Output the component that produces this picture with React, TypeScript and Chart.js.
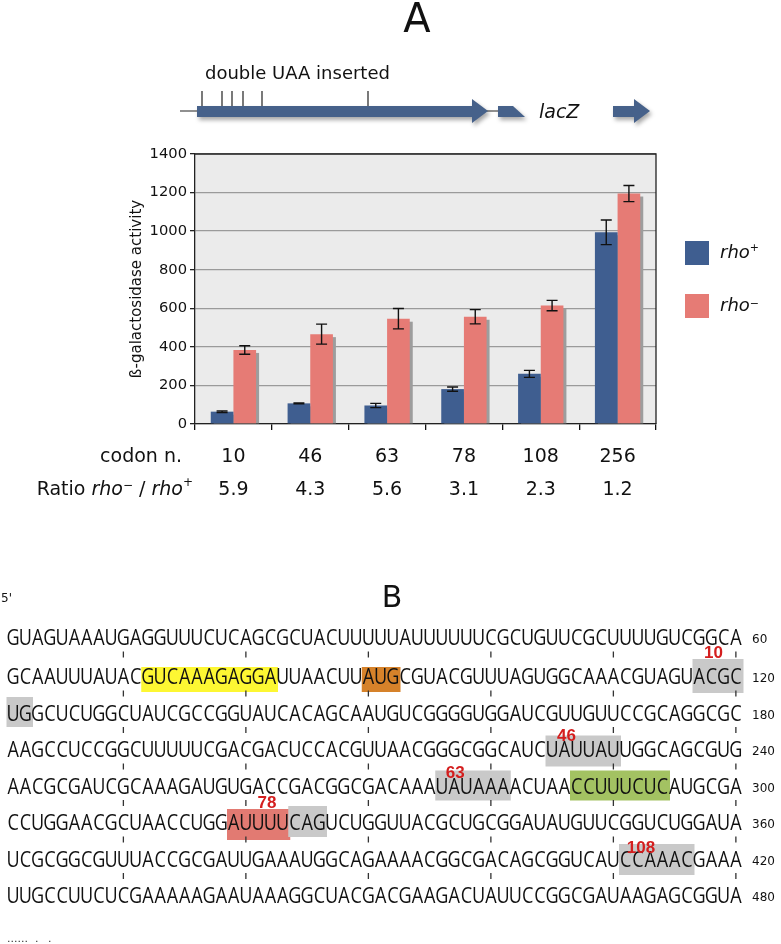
import { useEffect, useRef } from 'react';
import { Chart, registerables } from 'chart.js';

Chart.register(...registerables);

// ---------- data ----------
const codons = ['10', '46', '63', '78', '108', '256'];
const ratios = ['5.9', '4.3', '5.6', '3.1', '2.3', '1.2'];
const rhoPlus = [64, 107, 96, 181, 260, 994];
const rhoPlusErr = [4, 2, 11, 11, 18, 64];
const rhoMinus = [384, 466, 546, 556, 614, 1195];
const rhoMinusErr = [22, 52, 53, 37, 27, 42];
const yMax = 1400;
const yStep = 200;

const seqRows = [
  'GUAGUAAAUGAGGUUUCUCAGCGCUACUUUUUAUUUUUUCGCUGUUCGCUUUUGUCGGCA',
  'GCAAUUUAUACGUCAAAGAGGAUUAACUUAUGCGUACGUUUAGUGGCAAACGUAGUACGC',
  'UGGCUCUGGCUAUCGCCGGUAUCACAGCAAUGUCGGGGUGGAUCGUUGUUCCGCAGGCGC',
  'AAGCCUCCGGCUUUUUCGACGACUCCACGUUAACGGGCGGCAUCUAUUAUUGGCAGCGUG',
  'AACGCGAUCGCAAAGAUGUGACCGACGGCGACAAAUAUAAAACUAACCUUUCUCAUGCGA',
  'CCUGGAACGCUAACCUGGAUUUUCAGUCUGGUUACGCUGCGGAUAUGUUCGGUCUGGAUA',
  'UCGCGGCGUUUACCGCGAUUGAAAUGGCAGAAAACGGCGACAGCGGUCAUCCAAACGAAA',
  'UUGCCUUCUCGAAAAAGAAUAAAGGCUACGACGAAGACUAUUCCGGCGAUAAGAGCGGUA',
];

// highlighted stretches: row, first and last index within the row, kind, label
const highlights = [
  { row: 1, start: 11, end: 21, kind: 'sd', label: '' },
  { row: 1, start: 29, end: 31, kind: 'start', label: '' },
  { row: 1, start: 56, end: 59, kind: 'site', label: '10' },
  { row: 2, start: 0, end: 1, kind: 'site', label: '' },
  { row: 3, start: 44, end: 49, kind: 'site', label: '46' },
  { row: 4, start: 35, end: 40, kind: 'site', label: '63' },
  { row: 4, start: 46, end: 53, kind: 'green', label: '' },
  { row: 5, start: 18, end: 22, kind: 'red', label: '78' },
  { row: 5, start: 23, end: 25, kind: 'site', label: '' },
  { row: 6, start: 50, end: 55, kind: 'site', label: '108' },
];

// ---------- styles / layout ----------
const BLUE = '#3f5e90';
const RED = '#e67b75';
const FONT = '"DejaVu Sans"';
const kindColors: Record<string, string> = {
  sd: '#fdf733',
  start: '#d6822a',
  site: '#c9c9c9',
  green: '#a3c262',
  red: '#e27a72',
};
// vertical extent of each highlight box (relative to row baseline) and label offsets
const hlLayout = [
  { top: -17, bottom: 8, ldx: 0, ldy: 0 },
  { top: -17, bottom: 8, ldx: 0, ldy: 0 },
  { top: -25, bottom: 9, ldx: 21, ldy: -26 },
  { top: -23.5, bottom: 6.5, ldx: 0, ldy: 0 },
  { top: -21.5, bottom: 9.5, ldx: 21, ldy: -16.5 },
  { top: -23, bottom: 7, ldx: 20, ldy: -16 },
  { top: -23, bottom: 7, ldx: 0, ldy: 0 },
  { top: -21, bottom: 10, ldx: 40, ldy: -22 },
  { top: -24, bottom: 7, ldx: 0, ldy: 0 },
  { top: -22.5, bottom: 8.5, ldx: 22, ldy: -13.5 },
];
const SEQ_X0 = 7;
const SEQ_W = 12.25;
const rowBaseline = (r: number) => (r === 0 ? 645 : 684 + 36.5 * (r - 1));
const geneTickX = [202, 222, 232, 243, 262, 368];

function drawSuperText(
  ctx: CanvasRenderingContext2D,
  parts: { t: string; italic?: boolean; sup?: boolean }[],
  x: number,
  y: number,
  size: number,
  align: 'left' | 'right'
) {
  const fontFor = (p: { italic?: boolean; sup?: boolean }) =>
    `${p.italic ? 'italic ' : ''}${p.sup ? Math.round(size * 0.62) : size}px ${FONT}`;
  let total = 0;
  const widths = parts.map((p) => {
    ctx.font = fontFor(p);
    const w = ctx.measureText(p.t).width;
    total += w;
    return w;
  });
  let cx = align === 'right' ? x - total : x;
  ctx.textAlign = 'left';
  parts.forEach((p, i) => {
    ctx.font = fontFor(p);
    let dy = 0;
    if (p.sup) dy = p.t === '+' ? -size * 0.38 : -size * 0.22;
    ctx.fillText(p.t, cx, y + dy);
    cx += widths[i];
  });
}

function drawPanelA(ctx: CanvasRenderingContext2D) {
  ctx.save();
  ctx.fillStyle = '#111';
  ctx.textBaseline = 'alphabetic';
  ctx.font = `40px ${FONT}`;
  ctx.textAlign = 'center';
  ctx.fillText('A', 417, 32);
  ctx.font = `18px ${FONT}`;
  ctx.textAlign = 'left';
  ctx.fillText('double UAA inserted', 205, 79);

  // insertion ticks
  ctx.strokeStyle = '#222';
  ctx.lineWidth = 1.2;
  ctx.beginPath();
  geneTickX.forEach((x) => {
    ctx.moveTo(x, 91);
    ctx.lineTo(x, 106);
  });
  ctx.moveTo(180, 111);
  ctx.lineTo(198, 111);
  ctx.moveTo(487, 111);
  ctx.lineTo(499, 111);
  ctx.stroke();

  // gene arrows
  ctx.save();
  ctx.shadowColor = 'rgba(0,0,0,0.35)';
  ctx.shadowBlur = 4;
  ctx.shadowOffsetX = 2;
  ctx.shadowOffsetY = 3;
  ctx.fillStyle = '#46618a';
  ctx.beginPath();
  ctx.moveTo(197, 106);
  ctx.lineTo(472, 106);
  ctx.lineTo(472, 99);
  ctx.lineTo(488, 111);
  ctx.lineTo(472, 123);
  ctx.lineTo(472, 117);
  ctx.lineTo(197, 117);
  ctx.closePath();
  ctx.fill();
  ctx.beginPath();
  ctx.moveTo(498, 106);
  ctx.lineTo(513, 106);
  ctx.lineTo(525, 117);
  ctx.lineTo(498, 117);
  ctx.closePath();
  ctx.fill();
  ctx.beginPath();
  ctx.moveTo(613, 106);
  ctx.lineTo(634, 106);
  ctx.lineTo(634, 99);
  ctx.lineTo(650, 111);
  ctx.lineTo(634, 123);
  ctx.lineTo(634, 117);
  ctx.lineTo(613, 117);
  ctx.closePath();
  ctx.fill();
  ctx.restore();

  ctx.font = `italic 19px ${FONT}`;
  ctx.fillStyle = '#111';
  ctx.fillText('lacZ', 539, 118);

  // legend
  ctx.fillStyle = BLUE;
  ctx.fillRect(685, 241, 24, 24);
  ctx.fillStyle = RED;
  ctx.fillRect(685, 294, 24, 24);
  ctx.fillStyle = '#111';
  drawSuperText(ctx, [{ t: 'rho', italic: true }, { t: '+', sup: true }], 720, 258, 18, 'left');
  drawSuperText(ctx, [{ t: 'rho', italic: true }, { t: '\u2212', sup: true }], 720, 311, 18, 'left');

  // row headers under the axis
  ctx.textBaseline = 'middle';
  ctx.font = `19px ${FONT}`;
  ctx.textAlign = 'right';
  ctx.fillText('codon n.', 182, 457);
  drawSuperText(
    ctx,
    [
      { t: 'Ratio ' },
      { t: 'rho', italic: true },
      { t: '\u2212', sup: true },
      { t: ' / ' },
      { t: 'rho', italic: true },
      { t: '+', sup: true },
    ],
    193,
    490,
    19,
    'right'
  );
  ctx.restore();
}

function drawPanelB(ctx: CanvasRenderingContext2D) {
  ctx.save();
  ctx.textBaseline = 'alphabetic';
  ctx.fillStyle = '#111';
  ctx.font = `30px ${FONT}`;
  ctx.textAlign = 'center';
  ctx.fillText('B', 392, 607);
  ctx.font = `12px ${FONT}`;
  ctx.textAlign = 'left';
  ctx.fillText("5'", 1, 602);

  // highlight boxes
  highlights.forEach((h, k) => {
    const st = hlLayout[k];
    const b = rowBaseline(h.row);
    const x1 = SEQ_X0 + h.start * SEQ_W - 0.5;
    const x2 = SEQ_X0 + (h.end + 1) * SEQ_W + 1.5;
    ctx.fillStyle = kindColors[h.kind];
    ctx.fillRect(x1, b + st.top, x2 - x1, st.bottom - st.top);
  });

  // column ticks every 10 nt
  ctx.strokeStyle = '#333';
  ctx.lineWidth = 1.3;
  ctx.beginPath();
  for (let r = 0; r < seqRows.length - 1; r++) {
    const yc = rowBaseline(r) + 9.5;
    for (let c = 9; c < 60; c += 10) {
      const x = SEQ_X0 + (c + 0.5) * SEQ_W;
      ctx.moveTo(x, yc - 3);
      ctx.lineTo(x, yc + 3);
    }
  }
  ctx.stroke();

  // sequence letters
  ctx.fillStyle = '#111';
  ctx.font = '22px "Open Sans"';
  ctx.textAlign = 'center';
  seqRows.forEach((row, r) => {
    const b = rowBaseline(r);
    for (let i = 0; i < row.length; i++) {
      ctx.save();
      ctx.translate(SEQ_X0 + (i + 0.5) * SEQ_W, b);
      ctx.scale(0.82, 1);
      ctx.fillText(row[i], 0, 0);
      ctx.restore();
    }
  });

  // row numbers
  ctx.font = `12px ${FONT}`;
  ctx.textAlign = 'left';
  seqRows.forEach((row, r) => {
    ctx.fillText(String((r + 1) * row.length), 752, rowBaseline(r) - 2);
  });

  // red site labels
  ctx.fillStyle = '#d41e1e';
  ctx.font = 'bold 17px "Liberation Sans"';
  ctx.textAlign = 'center';
  highlights.forEach((h, k) => {
    if (!h.label) return;
    const st = hlLayout[k];
    const x1 = SEQ_X0 + h.start * SEQ_W - 0.5;
    ctx.fillText(h.label, x1 + st.ldx, rowBaseline(h.row) + st.ldy);
  });

  // trailing dots
  ctx.fillStyle = '#333';
  ctx.font = `11px ${FONT}`;
  ctx.textAlign = 'left';
  ctx.fillText('......', 7, 942);
  ctx.fillText('.', 35, 942);
  ctx.fillText('.', 48, 942);
  ctx.restore();
}

const errorsFor = [rhoPlusErr, rhoMinusErr];

const decorPlugin = {
  id: 'decor',
  beforeDraw(chart: any) {
    const { ctx, chartArea } = chart;
    ctx.save();
    ctx.fillStyle = '#fff';
    ctx.fillRect(0, 0, chart.width, chart.height);
    ctx.fillStyle = '#ebebeb';
    ctx.fillRect(chartArea.left, chartArea.top, chartArea.right - chartArea.left, chartArea.bottom - chartArea.top);
    ctx.restore();
  },
  beforeDatasetsDraw(chart: any) {
    const { ctx } = chart;
    ctx.save();
    ctx.fillStyle = '#9d9d9d';
    chart.data.datasets.forEach((_: any, di: number) => {
      const meta = chart.getDatasetMeta(di);
      meta.data.forEach((bar: any) => {
        const { x, y, base, width } = bar.getProps(['x', 'y', 'base', 'width'], true);
        ctx.fillRect(x - width / 2 + 3, y + 3, width, base - y - 3);
      });
    });
    ctx.restore();
  },
  afterDatasetsDraw(chart: any) {
    const { ctx } = chart;
    const ys = chart.scales.y;
    ctx.save();
    ctx.strokeStyle = '#111';
    ctx.lineWidth = 1.4;
    chart.data.datasets.forEach((ds: any, di: number) => {
      const meta = chart.getDatasetMeta(di);
      const errs = errorsFor[di];
      meta.data.forEach((bar: any, i: number) => {
        const v = ds.data[i];
        const yt = ys.getPixelForValue(v + errs[i]);
        const yb = ys.getPixelForValue(v - errs[i]);
        ctx.beginPath();
        ctx.moveTo(bar.x, yt);
        ctx.lineTo(bar.x, yb);
        ctx.moveTo(bar.x - 5.5, yt);
        ctx.lineTo(bar.x + 5.5, yt);
        ctx.moveTo(bar.x - 5.5, yb);
        ctx.lineTo(bar.x + 5.5, yb);
        ctx.stroke();
      });
    });
    ctx.restore();
  },
  afterDraw(chart: any) {
    const { ctx, chartArea } = chart;
    ctx.save();
    ctx.strokeStyle = '#222';
    ctx.lineWidth = 1.3;
    ctx.beginPath();
    ctx.moveTo(chartArea.left, chartArea.top);
    ctx.lineTo(chartArea.right, chartArea.top);
    ctx.lineTo(chartArea.right, chartArea.bottom);
    ctx.stroke();
    ctx.restore();
    drawPanelA(ctx);
    drawPanelB(ctx);
  },
};

export default function App() {
  const ref = useRef<HTMLCanvasElement>(null);
  useEffect(() => {
    if (!ref.current) return;
    const chart = new Chart(ref.current, {
      type: 'bar',
      data: {
        labels: codons.map((c, i) => [c, ratios[i]]),
        datasets: [
          { label: 'rho+', data: rhoPlus, backgroundColor: BLUE, borderWidth: 0 },
          { label: 'rho-', data: rhoMinus, backgroundColor: RED, borderWidth: 0 },
        ],
      },
      options: {
        responsive: false,
        maintainAspectRatio: false,
        animation: false,
        devicePixelRatio: 1,
        layout: { padding: { left: 124, right: 125, top: 154, bottom: 430 } },
        datasets: { bar: { categoryPercentage: 0.59, barPercentage: 1 } },
        plugins: { legend: { display: false }, tooltip: { enabled: false } },
        scales: {
          x: {
            offset: true,
            afterFit: (s: any) => {
              s.height = 90;
            },
            grid: {
              offset: true,
              drawOnChartArea: false,
              drawTicks: true,
              tickLength: 6,
              tickColor: '#111',
              lineWidth: 1.3,
            },
            border: { color: '#222', width: 1.3 },
            ticks: {
              autoSkip: false,
              maxRotation: 0,
              padding: 10.5,
              color: '#111',
              font: { family: 'DejaVu Sans', size: 19, lineHeight: 33 / 19 },
            },
          },
          y: {
            min: 0,
            max: yMax,
            afterFit: (s: any) => {
              s.width = 71;
            },
            ticks: {
              stepSize: yStep,
              padding: 3,
              color: '#111',
              font: { family: 'DejaVu Sans', size: 14.7 },
              callback: (v: any) => String(v),
            },
            grid: { color: '#9a9a9a', lineWidth: 1.3, tickLength: 5, tickColor: '#222' },
            border: { color: '#222', width: 1.3 },
            title: {
              display: true,
              text: '\u00DF-galactosidase activity',
              color: '#111',
              font: { family: 'DejaVu Sans', size: 15 },
              padding: { top: 4, bottom: 0 },
            },
          },
        },
      },
      plugins: [decorPlugin],
    } as any);
    return () => chart.destroy();
  }, []);
  return (
    <div style={{ position: 'absolute', left: 0, top: 0, width: 781, height: 944 }}>
      <canvas ref={ref} width={781} height={944} style={{ display: 'block', width: 781, height: 944 }} />
    </div>
  );
}
